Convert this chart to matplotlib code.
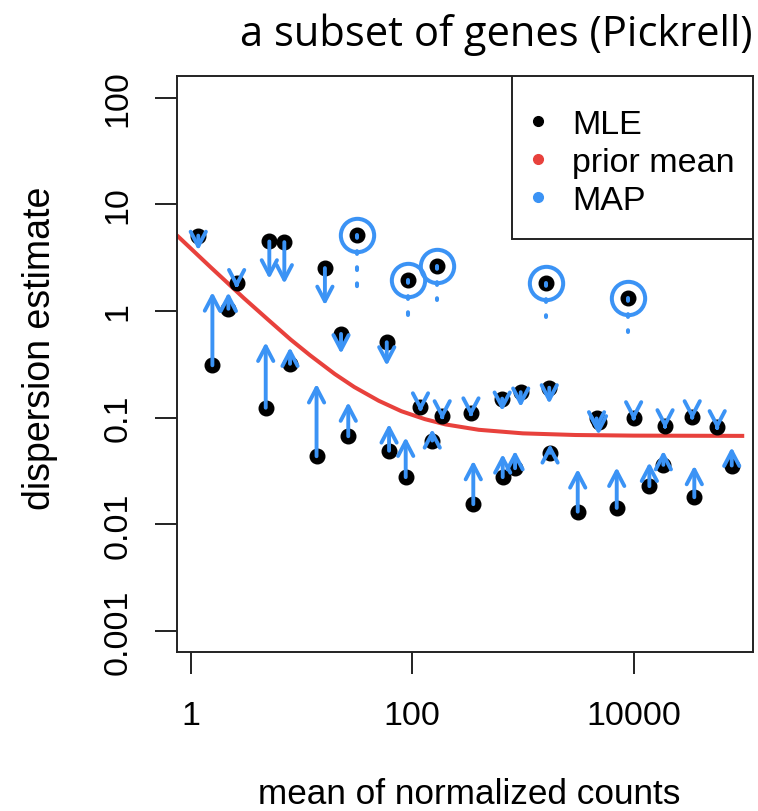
import matplotlib
matplotlib.use('Agg')
import matplotlib.pyplot as plt
from matplotlib.patches import FancyArrowPatch, ArrowStyle, Rectangle
from matplotlib.ticker import NullLocator

plt.rcParams['font.family'] = ['Liberation Sans', 'DejaVu Sans']

# gene-wise estimates: mean of normalized counts, MLE and MAP dispersion
mean_counts = [1.17, 1.57, 2.19, 2.60, 4.76, 5.13, 7.01, 7.89, 13.7, 16.3,
               22.8, 26.5, 59, 61.9, 87.5, 119, 152, 187, 340, 357,
               651, 658, 851, 957, 1733, 1762, 3133, 4634, 4830, 7050,
               10020, 13900, 18600, 19260, 33900, 35400, 57000, 77100]
disp_mle = [5.1, 0.31, 1.05, 1.84, 0.124, 4.49, 4.43, 0.32, 0.0435, 2.53,
            0.61, 0.067, 0.51, 0.049, 0.0277, 0.125, 0.061, 0.103, 0.110, 0.01545,
            0.151, 0.0277, 0.0336, 0.1734, 0.191, 0.0468, 0.01315, 0.0985, 0.0914, 0.01425,
            0.100, 0.0228, 0.0361, 0.0838, 0.102, 0.01795, 0.0814, 0.0356]
disp_map = [3.7, 1.51, 1.50, 1.62, 0.51, 2.0, 1.80, 0.458, 0.208, 1.13,
            0.397, 0.14, 0.306, 0.0875, 0.0656, 0.113, 0.0785, 0.0953, 0.1014, 0.0396,
            0.115, 0.0457, 0.0491, 0.1254, 0.1347, 0.0568, 0.0331, 0.0752, 0.069, 0.0343,
            0.0933, 0.0382, 0.0491, 0.0785, 0.0953, 0.0356, 0.0769, 0.0529]

# dispersion outliers (circled), dotted line down to the shrunken value
out_mean = [32.0, 91.2, 168.6, 1621, 8975]
out_mle = [5.19, 1.94, 2.67, 1.83, 1.32]
out_shrunk = [1.65, 0.92, 1.28, 0.87, 0.634]

# prior mean (fitted trend)
trend_mean = [0.75, 1, 1.5, 2, 3, 5, 8, 12, 20, 30, 50, 80, 130, 200,
              400, 1000, 3000, 10000, 100000]
trend_disp = [5.13, 3.87, 2.60, 1.97, 1.33, 0.83, 0.54, 0.384, 0.257, 0.194,
              0.144, 0.115, 0.097, 0.0865, 0.077, 0.0713, 0.0688, 0.0679, 0.0675]

legend_labels = ['MLE', 'prior mean', 'MAP']

blue = '#3b93f5'
red = '#e8413c'
dark = '#222222'
fs = 24.5

fig = plt.figure(figsize=(7.58, 8.12), dpi=100)
ax = fig.add_axes([177 / 758, 1 - 653 / 812, 576 / 758, 576 / 812])
ax.set_xscale('log')
ax.set_yscale('log')
ax.set_xlim(0.752, 1.2e5)
ax.set_ylim(6.35e-4, 160)

ax.plot(trend_mean, trend_disp, color=red, lw=2.9, solid_capstyle='butt', zorder=2)
ax.plot(mean_counts, disp_mle, 'o', color='black', ms=10.5, zorder=3)
ax.plot(out_mean, out_mle, 'o', color='black', ms=10.5, zorder=3)

head = ArrowStyle('->', head_length=10.5, head_width=5.5)
for x, a, b in zip(mean_counts, disp_mle, disp_map):
    arr = FancyArrowPatch((x, a), (x, b), arrowstyle=head, mutation_scale=1,
                          color=blue, lw=2.8, shrinkA=0, shrinkB=0,
                          capstyle='round', joinstyle='round', zorder=4)
    ax.add_patch(arr)

for x, a, b in zip(out_mean, out_mle, out_shrunk):
    ax.plot([x, x], [a, b], color=blue, lw=2.9, ls=(0, (0.7, 3.3)),
            dash_capstyle='round', zorder=4)
ax.plot(out_mean, out_mle, 'o', ms=24, mfc='none', mec=blue, mew=2.9, zorder=5)

ax.set_xticks([1, 100, 10000])
ax.set_xticklabels(['1', '100', '10000'])
ax.set_yticks([0.001, 0.01, 0.1, 1, 10, 100])
ax.set_yticklabels(['0.001', '0.01', '0.1', '1', '10', '100'], rotation=90, va='center')
ax.xaxis.set_minor_locator(NullLocator())
ax.yaxis.set_minor_locator(NullLocator())
ax.tick_params(length=15.5, width=1.4, labelsize=fs, color=dark)
ax.tick_params(axis='x', pad=19)
ax.tick_params(axis='y', pad=16)
for s in ax.spines.values():
    s.set_linewidth(1.4)
    s.set_color(dark)

# legend box drawn by hand (top right, R style)
ax.add_patch(Rectangle((0.5816, 0.717), 1 - 0.5816, 1 - 0.717, transform=ax.transAxes,
                       facecolor='white', edgecolor=dark, lw=1.4, zorder=6))
for i, (lab, c) in enumerate(zip(legend_labels, ['black', red, blue])):
    yy = 0.922 - i * 0.066
    ax.plot([0.627], [yy], 'o', color=c, ms=7, transform=ax.transAxes, zorder=7,
            clip_on=False)
    ax.text(0.686, yy, lab, transform=ax.transAxes, fontsize=fs, va='center_baseline',
            ha='left', zorder=7)

fig.text(752 / 758, 1 - 35 / 812, 'a subset of genes (Pickrell)', ha='right',
         va='center', fontsize=30, family='Open Sans')
fig.text(40 / 758, 1 - 348 / 812, 'dispersion estimate', rotation=90,
         ha='center', va='center', fontsize=27)
fig.text(469 / 758, 1 - 795 / 812, 'mean of normalized counts', ha='center',
         va='center', fontsize=25.3)

fig.savefig('out.png', dpi=100)
